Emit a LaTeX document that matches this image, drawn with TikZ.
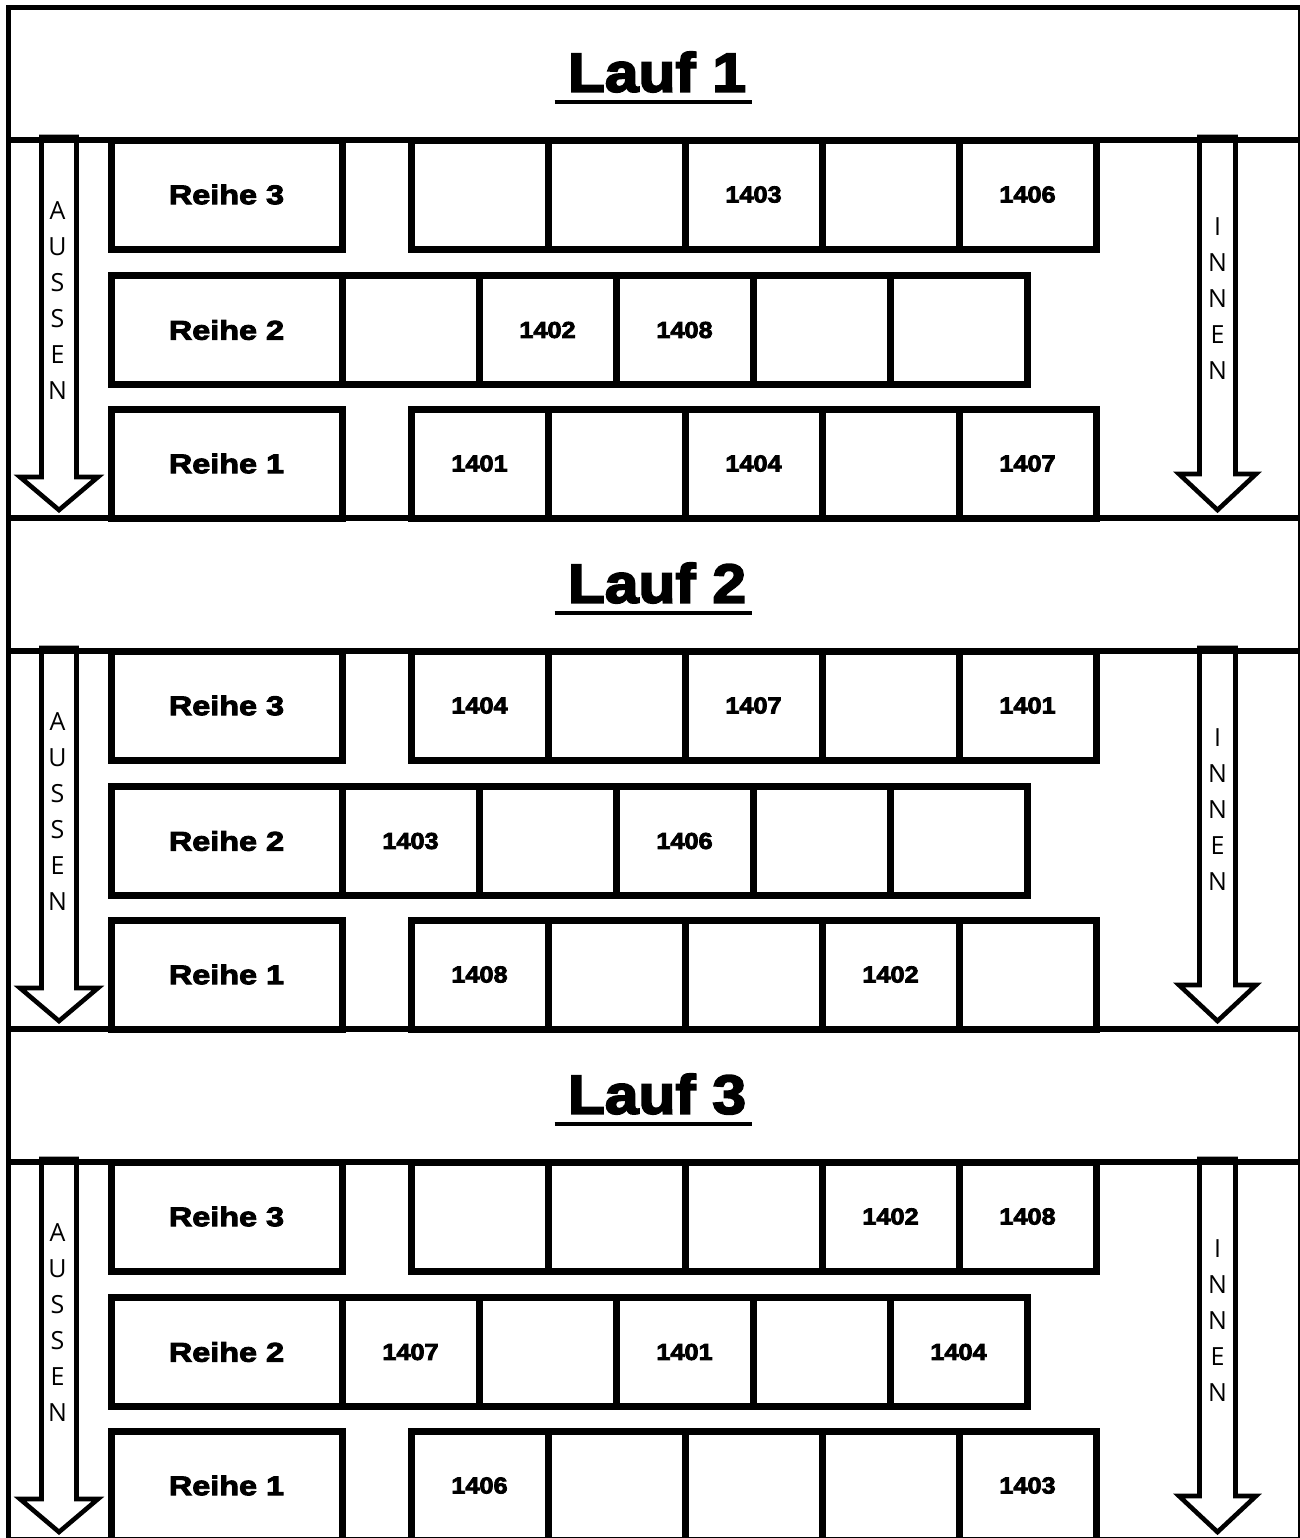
\documentclass[tikz,border=0pt]{standalone}
\usepackage{fontspec}
\newfontfamily\blackfont{Liberation Sans Bold}[FakeBold=3.5,FakeStretch=1.1]
\newfontfamily\widefont{Liberation Sans Bold}[FakeBold=3.5,FakeStretch=1.2]
\newfontfamily\lightfont{Open Sans}
\newcommand\slottext[1]{\if x#1\else#1\fi}

\begin{document}
\begin{tikzpicture}[
  x=0.5pt, y=-0.5pt,
  frame/.style={line width=2.5pt},
  rule/.style={line width=3pt},
  reihe/.style={draw, line width=3.5pt, minimum width=115.5pt, minimum height=54.5pt, inner sep=0pt, font=\widefont\fontsize{13.5}{16}\selectfont},
  slot/.style={draw, line width=3.5pt, minimum width=68.5pt, minimum height=54.5pt, inner sep=0pt, font=\blackfont\fontsize{11.5}{14}\selectfont},
  lauf/.style={inner sep=0pt, font=\blackfont\fontsize{27.5}{32}\selectfont},
  uline/.style={line width=2pt},
  blockarrow/.style={draw, line width=2.3pt, fill=white, line join=miter},
  arrowtext/.style={align=center, inner sep=0pt, font=\lightfont\fontsize{12.5}{18}\selectfont},
]
\useasboundingbox (0,0) rectangle (1300,1538);
\clip (0,0) rectangle (1300,1538);
\draw[frame] (8.5,7.5) rectangle (1300,1560);
\foreach \k [evaluate=\k as \o using (\k-1)*511] in {1,2,3} {
  \draw[blockarrow] (41.5,\o+137) -- (76.5,\o+137) -- (76.5,\o+477) -- (98,\o+477)
    -- (59,\o+510) -- (20,\o+477) -- (41.5,\o+477) -- cycle;
  \draw[blockarrow] (1199.5,\o+137) -- (1235.5,\o+137) -- (1235.5,\o+474) -- (1256,\o+474)
    -- (1217.5,\o+510) -- (1179,\o+474) -- (1199.5,\o+474) -- cycle;
  \node[arrowtext] (aussen\k) at (57.5,\o+301) {A\\U\\S\\S\\E\\N};
  \node[arrowtext] (innen\k) at (1217.5,\o+299) {I\\N\\N\\E\\N};
  \node[lauf] (lauf\k) at (657,\o+72) {Lauf \k};
  \draw[uline] ([xshift=-6.5pt,yshift=-4.5pt]lauf\k.south west) -- ([xshift=3pt,yshift=-4.5pt]lauf\k.south east);
  \node[reihe] (lauf\k-reihe3) at (226.5,\o+194.5) {Reihe 3};
  \node[reihe] (lauf\k-reihe2) at (226.5,\o+330) {Reihe 2};
  \node[reihe] (lauf\k-reihe1) at (226.5,\o+463.5) {Reihe 1};
  \draw[rule] (8.5,\o+140) -- (1300,\o+140);
  \draw[rule] (8.5,\o+518) -- (1300,\o+518);
}
\foreach \v [count=\i] in {x,x,1403,x,1406}
  \node[slot] (lauf1-r3s\i) at (342.5+137*\i,194.5) {\slottext{\v}};
\foreach \v [count=\i] in {x,1402,1408,x,x}
  \node[slot] (lauf1-r2s\i) at (273.5+137*\i,330) {\slottext{\v}};
\foreach \v [count=\i] in {1401,x,1404,x,1407}
  \node[slot] (lauf1-r1s\i) at (342.5+137*\i,463.5) {\slottext{\v}};
\foreach \v [count=\i] in {1404,x,1407,x,1401}
  \node[slot] (lauf2-r3s\i) at (342.5+137*\i,705.5) {\slottext{\v}};
\foreach \v [count=\i] in {1403,x,1406,x,x}
  \node[slot] (lauf2-r2s\i) at (273.5+137*\i,841) {\slottext{\v}};
\foreach \v [count=\i] in {1408,x,x,1402,x}
  \node[slot] (lauf2-r1s\i) at (342.5+137*\i,974.5) {\slottext{\v}};
\foreach \v [count=\i] in {x,x,x,1402,1408}
  \node[slot] (lauf3-r3s\i) at (342.5+137*\i,1216.5) {\slottext{\v}};
\foreach \v [count=\i] in {1407,x,1401,x,1404}
  \node[slot] (lauf3-r2s\i) at (273.5+137*\i,1352) {\slottext{\v}};
\foreach \v [count=\i] in {1406,x,x,x,1403}
  \node[slot] (lauf3-r1s\i) at (342.5+137*\i,1485.5) {\slottext{\v}};
\end{tikzpicture}
\end{document}
